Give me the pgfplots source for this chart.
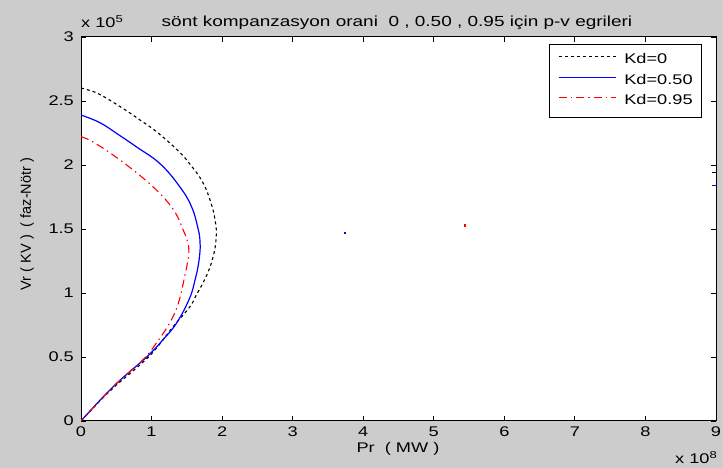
\documentclass[border=0pt]{standalone}
\usepackage{pgfplots}
\pgfplotsset{compat=1.18}
\usepackage{fontspec}
\setmainfont{Liberation Sans}[FakeStretch=1.3]
\newfontfamily\ylabfont{Liberation Sans}

\definecolor{figgray}{HTML}{CCCCCC}

\begin{document}
\fontsize{14}{16}\selectfont
\begin{tikzpicture}[x=1pt,y=1pt]
\useasboundingbox (0,0) rectangle (723,468);
\fill[figgray] (0,0) rectangle (723,468);
\begin{axis}[
    at={(81pt,47pt)}, anchor=south west,
    scale only axis, width=635pt, height=384pt,
    xmin=0, xmax=9, ymin=0, ymax=3,
    xtick={0,1,2,3,4,5,6,7,8,9},
    xticklabels={0,1,2,3,4,5,6,7,8,9},
    ytick={0,0.5,1,1.5,2,2.5,3},
    yticklabels={0,0.5,1,1.5,2,2.5,3},
    /pgf/number format/assume math mode=true,
    tick align=inside,
    major tick length=5pt,
    tick style={black, line width=0.8pt},
    axis line style={black, line width=1pt},
    axis background/.style={fill=white},
    xticklabel style={inner sep=0pt, yshift=-6pt, font=\fontsize{14}{16}\selectfont},
    yticklabel style={inner sep=0pt, xshift=-7pt, font=\fontsize{14}{16}\selectfont},
    clip=true,
    legend style={
        at={(0.978,0.982)}, anchor=north east,
        draw=black, line width=0.8pt, fill=white,
        inner xsep=9pt, inner ysep=9.5pt,
        row sep=7.5pt, column sep=8pt,
        nodes={inner sep=0pt, text height=10pt, text depth=3pt, anchor=west},
        font=\fontsize{14}{16}\selectfont,
    },
    legend cell align=left,
    legend image code/.code={\draw[#1] (0pt,3.5pt) -- (57pt,3.5pt);},
]
% Kd = 0
\addplot[draw=black, line width=1.1pt, dash pattern=on 3pt off 3pt, smooth, tension=0.7] coordinates {
(0,2.60) (0.08,2.59) (0.27,2.55) (0.60,2.44) (0.84,2.35) (1.07,2.26)
(1.36,2.12) (1.54,2.01) (1.73,1.86) (1.85,1.69) (1.90,1.57) (1.92,1.47)
(1.91,1.39) (1.88,1.30) (1.82,1.19) (1.73,1.08) (1.63,0.98) (1.54,0.89)
(1.31,0.74) (1.07,0.57) (0.88,0.46) (0.46,0.26) (0.17,0.10) (0,0)
};
\addlegendentry{Kd=0}
% Kd = 0.50
\addplot[draw=blue, line width=1.2pt, smooth, tension=0.7] coordinates {
(0,2.39) (0.27,2.33) (0.55,2.23) (0.79,2.14) (1.12,2.01) (1.40,1.83)
(1.57,1.67) (1.66,1.50) (1.685,1.42) (1.69,1.36) (1.68,1.29) (1.66,1.21)
(1.62,1.11) (1.54,0.96) (1.36,0.77) (1.17,0.64) (0.93,0.50) (0.46,0.27) (0,0)
};
\addlegendentry{Kd=0.50}
% Kd = 0.95
\addplot[draw=red, line width=1.1pt, dash pattern=on 8pt off 4pt on 1.5pt off 4pt, smooth, tension=0.7] coordinates {
(0,2.22) (0.17,2.18) (0.55,2.04) (1.02,1.83) (1.31,1.65) (1.45,1.49)
(1.51,1.40) (1.53,1.32) (1.51,1.24) (1.47,1.13) (1.38,0.92) (1.26,0.77)
(1.07,0.61) (0.88,0.48) (0.46,0.27) (0,0)
};
\addlegendentry{Kd=0.95}
% isolated points
\addplot[draw=blue, fill=blue, only marks, mark=square*, mark size=0.8pt, forget plot] coordinates {(3.74,1.47)};
\addplot[draw=red, fill=red, only marks, mark=square*, mark size=0.8pt, forget plot] coordinates {(5.44,1.53)};
\addplot[draw=black, line width=1.2pt, forget plot] coordinates {(8.95,1.94) (9.0,1.94)};
\addplot[draw=blue, line width=1.5pt, forget plot] coordinates {(8.95,1.84) (9.0,1.84)};
\end{axis}
% titles and labels
\node[anchor=base] at (397,441) {\fontsize{14.6}{16}\selectfont sönt kompanzasyon orani\ \ 0 , 0.50 , 0.95 için p-v egrileri};
\node[anchor=base west, inner sep=0pt] at (81,440) {x 10\raisebox{5pt}{\fontsize{10}{10}\selectfont 5}};
\node[anchor=base east, inner sep=0pt] at (717,4) {x 10\raisebox{5pt}{\fontsize{10}{10}\selectfont 8}};
\node at (398,19) {Pr\ \ ( MW )};
\node[rotate=90] at (27,244) {\ylabfont\fontsize{14.5}{16}\selectfont Vr ( KV )\ \ ( faz-Nötr )};
\end{tikzpicture}
\end{document}
